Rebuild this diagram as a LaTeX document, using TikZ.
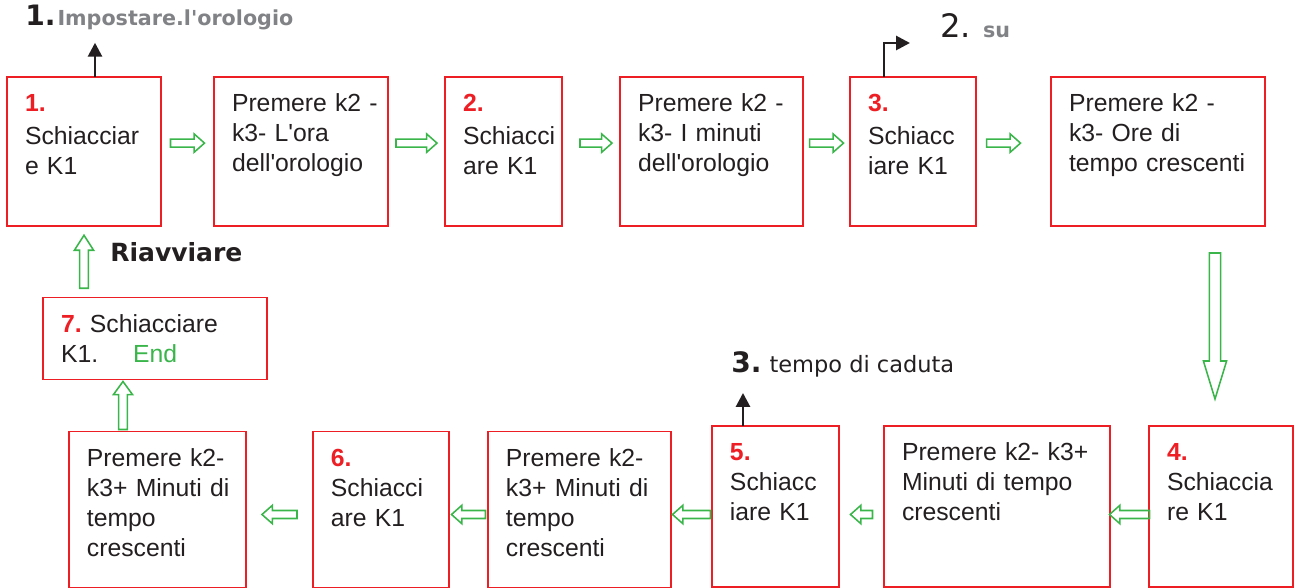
\documentclass[tikz,border=0pt]{standalone}
\usepackage{fontspec}
\newfontfamily\arial{Liberation Sans}
\newfontfamily\dejavu{DejaVu Sans}
\usetikzlibrary{arrows.meta,positioning,calc}
\definecolor{rossoBordo}{RGB}{237,30,36}
\definecolor{verdeFreccia}{RGB}{57,181,74}
\definecolor{grigioTesto}{RGB}{128,130,133}
\definecolor{neroTesto}{RGB}{35,31,32}
\hyphenpenalty=10000
\exhyphenpenalty=10000
\newcommand{\numero}[1]{{\bfseries\color{rossoBordo}#1}}
\tikzset{
  passo/.style={rectangle, draw=rossoBordo, line width=1.3pt, anchor=north west,
                inner xsep=4.5mm, inner ysep=0pt, outer sep=0pt, text height=8.75mm, align=left,
                text=neroTesto, font=\arial\fontsize{17.6}{21.3}\selectfont},
  etichetta/.style={anchor=base west, inner sep=0pt, text=neroTesto, font=\dejavu},
  fusto/.store in=\fusto, punta/.store in=\punta, testa/.store in=\testa,
  fusto=1mm, punta=2.3mm, testa=2.6mm,
  freccia/.style={draw=verdeFreccia, line width=1.1pt, to path={
      ($(\tikztostart)!0.5!(\tikztotarget)$) coordinate (fm)
      ($(fm)!#1/2!(\tikztostart)$) coordinate (fs)
      ($(fm)!#1/2!(\tikztotarget)$) coordinate (fe)
      ($(fe)!\testa!(fs)$) coordinate (fh)
      ($(fs)!\fusto!90:(fe)$) -- ($(fh)!\fusto!90:(fe)$) -- ($(fh)!\punta!90:(fe)$)
      -- (fe) -- ($(fh)!\punta!-90:(fe)$) -- ($(fh)!\fusto!-90:(fe)$)
      -- ($(fs)!\fusto!-90:(fe)$) -- cycle}},
  freccia/.default=8.5mm,
  frecciaNera/.style={-{Triangle[length=3.5mm, width=3.5mm]}, line width=2pt, neroTesto},
}

\begin{document}
\begin{tikzpicture}[x=0.25mm, y=-0.25mm]
  \useasboundingbox (0,0) rectangle (1295,588);
  % riga in alto
  \node[passo, text width=29.5mm, text depth=28.5mm] (b1) at (7,77) {\numero{1.}\\[2pt]Schiacciar\\e~K1};
  \node[passo, text width=34.5mm, text depth=28.5mm, right=13.25mm of b1] (b2) {Premere~k2~-\\k3-~L'ora\\dell'orologio};
  \node[passo, text width=20.25mm, text depth=28.5mm, right=14.25mm of b2] (b3) {\numero{2.}\\[2pt]Schiacci\\are~K1};
  \node[passo, text width=36.75mm, text depth=28.5mm, right=14.5mm of b3] (b4) {Premere~k2~-\\k3-~I~minuti\\dell'orologio};
  \node[passo, text width=22.5mm, text depth=28.5mm, right=11.75mm of b4] (b5) {\numero{3.}\\[2pt]Schiacc\\iare~K1};
  \node[passo, text width=44.5mm, text depth=28.5mm, right=18.75mm of b5] (b6) {Premere~k2~-\\k3-~Ore~di\\tempo~crescenti};
  % riga in basso
  \node[passo, text width=27mm, text depth=31.5mm] (b7) at (1149,426) {\numero{4.}\\Schiaccia\\re~K1};
  \node[passo, text width=47.5mm, text depth=31.5mm, left=9.75mm of b7] (b8) {Premere~k2-~k3+\\Minuti~di~tempo\\crescenti};
  \node[passo, text width=22.75mm, text depth=31.5mm, left=11.25mm of b8] (b9) {\numero{5.}\\Schiacc\\iare~K1};
  \node[passo, text width=36.75mm, text depth=30.25mm, left=10.25mm of b9, yshift=-0.75mm] (b10) {Premere~k2-\\k3+~Minuti~di\\tempo\\crescenti};
  \node[passo, text width=25mm, text depth=30.25mm, left=9.75mm of b10] (b11) {\numero{6.}\\Schiacci\\are~K1};
  \node[passo, text width=35.25mm, text depth=30.25mm, left=16.75mm of b11] (b12) {Premere~k2-\\k3+~Minuti~di\\tempo\\crescenti};
  \node[passo, text width=47mm, text depth=11.75mm, above=13mm of b12, xshift=-0.6mm] (b13) {\numero{7.}~Schiacciare\\K1.\hspace{8.75mm}\textcolor{verdeFreccia}{End}};
  % titoli
  \node[etichetta] (t1) at (25,26) {{\fontsize{20}{24}\selectfont\bfseries 1.}\hspace{0.5mm}{\fontsize{14.7}{18}\selectfont\bfseries\color{grigioTesto}Impostare.l'orologio}};
  \node[etichetta] (t2) at (940,38) {{\fontsize{23}{28}\selectfont 2.}\hspace{3mm}{\fontsize{14.7}{18}\selectfont\bfseries\color{grigioTesto}su}};
  \node[etichetta] (t3) at (731,373) {{\fontsize{20}{24}\selectfont\bfseries 3.}\hspace{2mm}{\fontsize{16}{20}\selectfont tempo di caduta}};
  \node[etichetta, font=\dejavu\fontsize{17.8}{22}\selectfont\bfseries] (riavvio) at (110,262) {Riavviare};
  % frecce verdi
  \draw[freccia=8.5mm] ([yshift=2.1mm]b1.east) to ([yshift=2.1mm]b2.west);
  \draw[freccia=10.25mm] ([yshift=2.1mm]b2.east) to ([yshift=2.1mm]b3.west);
  \draw[freccia=8mm] ([xshift=1.25mm, yshift=2.1mm]b3.east) to ([xshift=1.25mm, yshift=2.1mm]b4.west);
  \draw[freccia=8.5mm] ([yshift=2.1mm]b4.east) to ([yshift=2.1mm]b5.west);
  \draw[freccia=8.5mm] ([xshift=-2.5mm, yshift=2.1mm]b5.east) to ([xshift=-2.5mm, yshift=2.1mm]b6.west);
  \draw[freccia=36.5mm, fusto=1.4mm, punta=2.9mm, testa=9.5mm] ([xshift=-1.5mm]b7.north |- b6.south) to ([xshift=-1.5mm]b7.north);
  \draw[freccia=10mm] ([yshift=-2mm]b7.west) to ([yshift=-2mm]b7.west -| b8.east);
  \draw[freccia=5.5mm] ([yshift=-2mm]b8.west) to ([yshift=-2mm]b8.west -| b9.east);
  \draw[freccia=9.5mm] ([yshift=-2mm]b9.west) to ([yshift=-2mm]b9.west -| b10.east);
  \draw[freccia=8.5mm] ([yshift=-1.25mm]b10.west) to ([yshift=-1.25mm]b11.east);
  \draw[freccia=8.75mm] ([yshift=-1.25mm]b11.west) to ([yshift=-1.25mm]b12.east);
  \draw[freccia=12mm, fusto=1.1mm, punta=2.4mm, testa=3.3mm] ([xshift=13.5mm]b12.north west) to ([xshift=13.5mm]b12.north west |- b13.south);
  \draw[freccia=13.25mm, fusto=1.1mm, punta=2.4mm, testa=3.75mm] (b13.north -| b1.south) to (b1.south);
  % frecce nere
  \draw[frecciaNera, shorten >=3mm] ([xshift=2.75mm]b1.north) -- ([xshift=2.75mm]b1.north |- t1.south);
  \draw[frecciaNera] ([xshift=8.5mm]b5.north west) |- ([xshift=-7.5mm, yshift=-1.25mm]t2.base west);
  \draw[frecciaNera, shorten >=3.75mm] ([xshift=7.75mm]b9.north west) -- ([xshift=7.75mm]b9.north west |- t3.south);
\end{tikzpicture}
\end{document}
